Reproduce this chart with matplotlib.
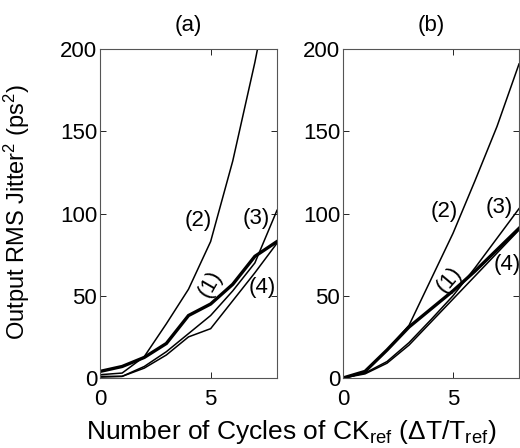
import numpy as np
import matplotlib
matplotlib.use("Agg")
import matplotlib.pyplot as plt

# =====================================================
# data
# =====================================================
cycles = [0, 1, 2, 3, 4, 5, 6, 7, 8]

# panel (a)
a_c1 = [4, 7, 12.5, 21, 38, 45, 57, 74, 83]
a_c2 = [2, 3, 13, 33, 54, 83, 132, 192, 260]
a_c3 = [1, 1, 7, 16, 27, 38, 53, 70, 102]
a_c4 = [0.5, 1, 6, 14, 25, 30, 47, 64, 82]

# panel (b)
b_c1 = [0, 4, 17, 31, 42, 53, 65, 78, 91]
b_c2 = [0, 4, 17, 32, 60, 88, 120, 153, 191]
b_c3 = [0, 3, 10, 21.5, 35.5, 50, 67, 85, 103]
b_c4 = [0, 2.5, 9, 20, 34, 48, 62, 76, 90]

panel_titles = ["(a)", "(b)"]
curve_names = ["(1)", "(2)", "(3)", "(4)"]

# =====================================================
# style
# =====================================================
plt.rcParams["font.family"] = ["Liberation Sans", "DejaVu Sans"]
plt.rcParams["mathtext.fontset"] = "custom"
plt.rcParams["mathtext.rm"] = "Liberation Sans"
plt.rcParams["mathtext.it"] = "Liberation Sans:italic"
plt.rcParams["font.size"] = 16

fig = plt.figure(figsize=(5.2, 4.48), dpi=100)
ax_a = fig.add_axes([0.1923, 0.15625, 0.3404, 0.734])
ax_b = fig.add_axes([0.6596, 0.15625, 0.3385, 0.734])

panels = [
    (ax_a, [a_c1, a_c2, a_c3, a_c4],
     [(5.0, 57, 60), (4.45, 96, 0), (7.05, 97, 0), (7.35, 55, 0)]),
    (ax_b, [b_c1, b_c2, b_c3, b_c4],
     [(4.84, 60, 50), (4.6, 101, 0), (7.1, 104, 0), (7.45, 69, 0)]),
]

for (ax, curves, label_pos), title in zip(panels, panel_titles):
    for i, ys in enumerate(curves):
        lw = 2.4 if i == 0 else 1.1
        ax.plot(cycles, ys, color="black", lw=lw, solid_joinstyle="miter")
    for name, (lx, ly, rot) in zip(curve_names, label_pos):
        ax.text(lx, ly, name, ha="center", va="center", rotation=rot, fontsize=16)
    ax.set_xlim(0, 8)
    ax.set_ylim(0, 200)
    ax.set_xticks([0, 5])
    ax.set_yticks([0, 50, 100, 150, 200])
    ax.tick_params(axis="both", direction="in", top=True, right=True,
                   length=4, width=0.6, labelsize=16)
    ax.tick_params(axis="y", pad=2)
    ax.tick_params(axis="x", pad=8)
    for sp in ax.spines.values():
        sp.set_linewidth(0.8)
        sp.set_color("#555555")
    ax.set_title(title, fontsize=16, pad=13)

fig.text(0.032, 0.527, "Output RMS Jitter$^2$ (ps$^2$)", rotation=90,
         ha="center", va="center", fontsize=17)
fig.text(0.56, 0.036, "Number of Cycles of CK$_{\\mathrm{ref}}$ (ΔT/T$_{\\mathrm{ref}}$)",
         ha="center", va="center", fontsize=19)

plt.savefig("out.png", dpi=100)
plt.close()
